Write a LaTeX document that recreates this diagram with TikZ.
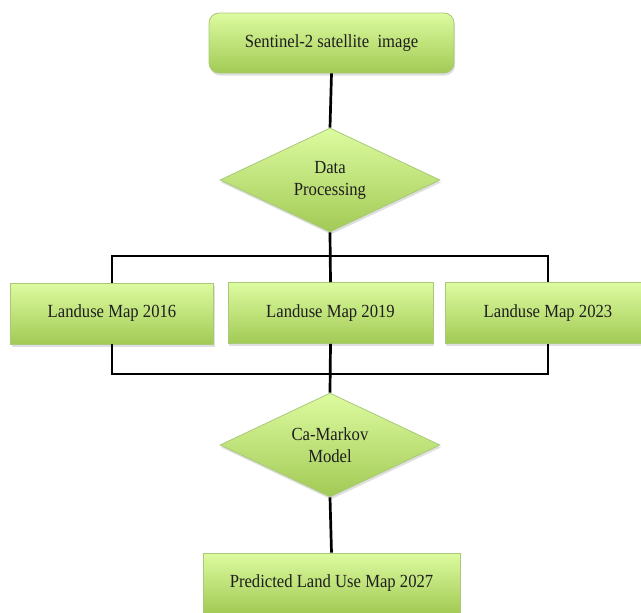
\documentclass[tikz,border=0pt]{standalone}
\usepackage{fontspec}
\setmainfont{Liberation Serif}[FakeStretch=0.9]
\usetikzlibrary{shapes.geometric,shadows}
\definecolor{gtop}{HTML}{DDFBA0}
\definecolor{gbot}{HTML}{A2CA55}
\definecolor{gedge}{HTML}{A9C97A}
\definecolor{txt}{HTML}{1E1E1E}
\tikzset{
  greenfill/.style={draw=gedge, line width=0.8pt, top color=gtop, bottom color=gbot,
    drop shadow={opacity=0.25, shadow xshift=1pt, shadow yshift=-2.5pt},
    font=\fontsize{18.5}{22}\selectfont, text=txt, align=center, inner sep=0pt},
  boxnode/.style={greenfill, rectangle, minimum height=61pt},
  roundbox/.style={boxnode, rounded corners=10pt},
  decision/.style={greenfill, diamond, minimum width=220pt, minimum height=104pt, aspect=2.1},
  link/.style={line width=2.7pt, black}
}
\begin{document}
\begin{tikzpicture}[x=1pt,y=-1pt]
\useasboundingbox (0,0) rectangle (641,613);
\node[roundbox, minimum width=245pt, minimum height=60pt] (top) at (331.5,43) {Sentinel-2 satellite\ \ image};
\node[decision] (d1) at (330,180) {Data\\Processing};
\node[boxnode, minimum width=203pt] (b1) at (112,313.5) {Landuse Map 2016};
\node[boxnode, minimum width=205pt] (b2) at (330.5,313) {Landuse Map 2019};
\node[boxnode, minimum width=206pt] (b3) at (548,313) {Landuse Map 2023};
\node[decision] (d2) at (330,445) {Ca-Markov\\Model};
\node[boxnode, minimum width=257pt, minimum height=60pt] (p) at (331.5,583) {Predicted Land Use Map 2027};
\coordinate (busT) at (330,256);
\coordinate (busB) at (330,374);
\draw[link] (top.south) -- (d1.north);
\draw[link] (d1.south) -- (b2.north);
\draw[link] (b1.north) -- (b1.north |- busT) -- (b3.north |- busT) -- (b3.north);
\draw[link] (b1.south) -- (b1.south |- busB) -- (b3.south |- busB) -- (b3.south);
\draw[link] (b2.south) -- (d2.north);
\draw[link] (d2.south) -- (p.north);
\end{tikzpicture}
\end{document}
